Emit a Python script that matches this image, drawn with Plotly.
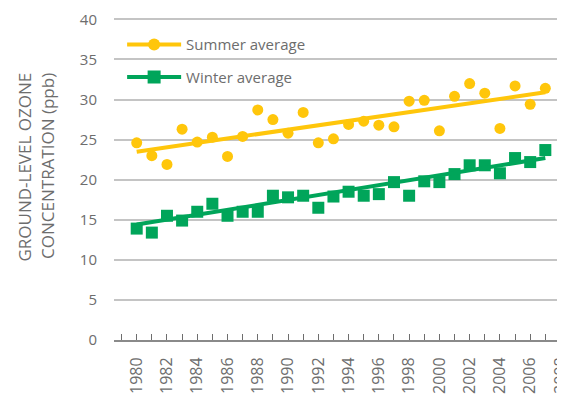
import plotly.graph_objects as go

years = list(range(1980, 2008))
summer_avg = [24.6, 23.0, 21.9, 26.3, 24.7, 25.3, 22.9, 25.4, 28.7, 27.5,
              25.8, 28.4, 24.6, 25.1, 26.9, 27.3, 26.8, 26.6, 29.8, 29.9,
              26.1, 30.4, 32.0, 30.8, 26.4, 31.7, 29.4, 31.4]
winter_avg = [13.9, 13.4, 15.5, 14.9, 16.0, 17.0, 15.5, 16.0, 16.0, 18.0,
              17.8, 18.0, 16.5, 17.9, 18.5, 18.0, 18.2, 19.7, 18.0, 19.8,
              19.7, 20.7, 21.8, 21.8, 20.8, 22.7, 22.2, 23.7]
# linear trend ends
trend_years = [1980, 2007]
summer_trend = [23.5, 30.9]
winter_trend = [14.4, 22.7]

YELLOW = "#FFC60B"
GREEN = "#00A55A"
GREY = "#6d6d6d"
GRID = "rgb(196,196,196)"
FONT = "Open Sans"

fig = go.Figure()
fig.add_trace(go.Scatter(x=years, y=summer_avg, mode="markers", showlegend=False,
                         marker=dict(color=YELLOW, size=11, symbol="circle")))
fig.add_trace(go.Scatter(x=trend_years, y=summer_trend, mode="lines", showlegend=False,
                         line=dict(color=YELLOW, width=4)))
fig.add_trace(go.Scatter(x=years, y=winter_avg, mode="markers", showlegend=False,
                         marker=dict(color=GREEN, size=12, symbol="square")))
fig.add_trace(go.Scatter(x=trend_years, y=winter_trend, mode="lines", showlegend=False,
                         line=dict(color=GREEN, width=4)))

# legend-only entries (line + marker)
fig.add_trace(go.Scatter(x=[None], y=[None], mode="lines+markers", name="Summer average",
                         legendgroup="s", line=dict(color=YELLOW, width=4),
                         marker=dict(color=YELLOW, size=12, symbol="circle")))
fig.add_trace(go.Scatter(x=[None], y=[None], mode="lines+markers", name="Winter average",
                         legendgroup="w", line=dict(color=GREEN, width=4),
                         marker=dict(color=GREEN, size=13, symbol="square")))

fig.add_annotation(text="GROUND-LEVEL OZONE<br>CONCENTRATION (ppb)", textangle=-90,
                   xref="paper", yref="paper", x=-0.173, y=0.537, xanchor="center",
                   yanchor="middle", align="right", showarrow=False,
                   font=dict(family=FONT, size=17, color=GREY))

fig.update_xaxes(range=[1978.5, 2008.3], tick0=1980, dtick=2, tickangle=-90,
                 ticks="inside", ticklen=6, tickcolor=GREY, tickwidth=1,
                 minor=dict(dtick=1, ticks="inside", ticklen=6, tickcolor=GREY, tickwidth=1),
                 showgrid=False, showline=True, linecolor="#8a8a8a", linewidth=2,
                 zeroline=False, ticklabelstandoff=9, ticklabeloverflow="allow",
                 tickfont=dict(family=FONT, size=16, color=GREY))
# top slightly above 40 so the 40 gridline is drawn
fig.update_yaxes(range=[0, 40.3], tick0=0, dtick=5, showgrid=True, gridcolor=GRID,
                 gridwidth=2, zeroline=False, showline=False,
                 ticklabelstandoff=16,
                 tickfont=dict(family=FONT, size=15, color=GREY))

# page body has an 8px margin, so the figure is a bit smaller and shifted
fig.update_layout(template="none", width=557, height=393,
                  plot_bgcolor="white", paper_bgcolor="white",
                  margin=dict(l=106, r=0, t=9, b=61),
                  font=dict(family=FONT, color=GREY),
                  legend=dict(x=0.018, y=0.965, xanchor="left", yanchor="top",
                              bgcolor="rgba(0,0,0,0)", traceorder="grouped",
                              tracegroupgap=10, itemwidth=54,
                              font=dict(family=FONT, size=15, color=GREY)))

fig.write_html("out.html")
